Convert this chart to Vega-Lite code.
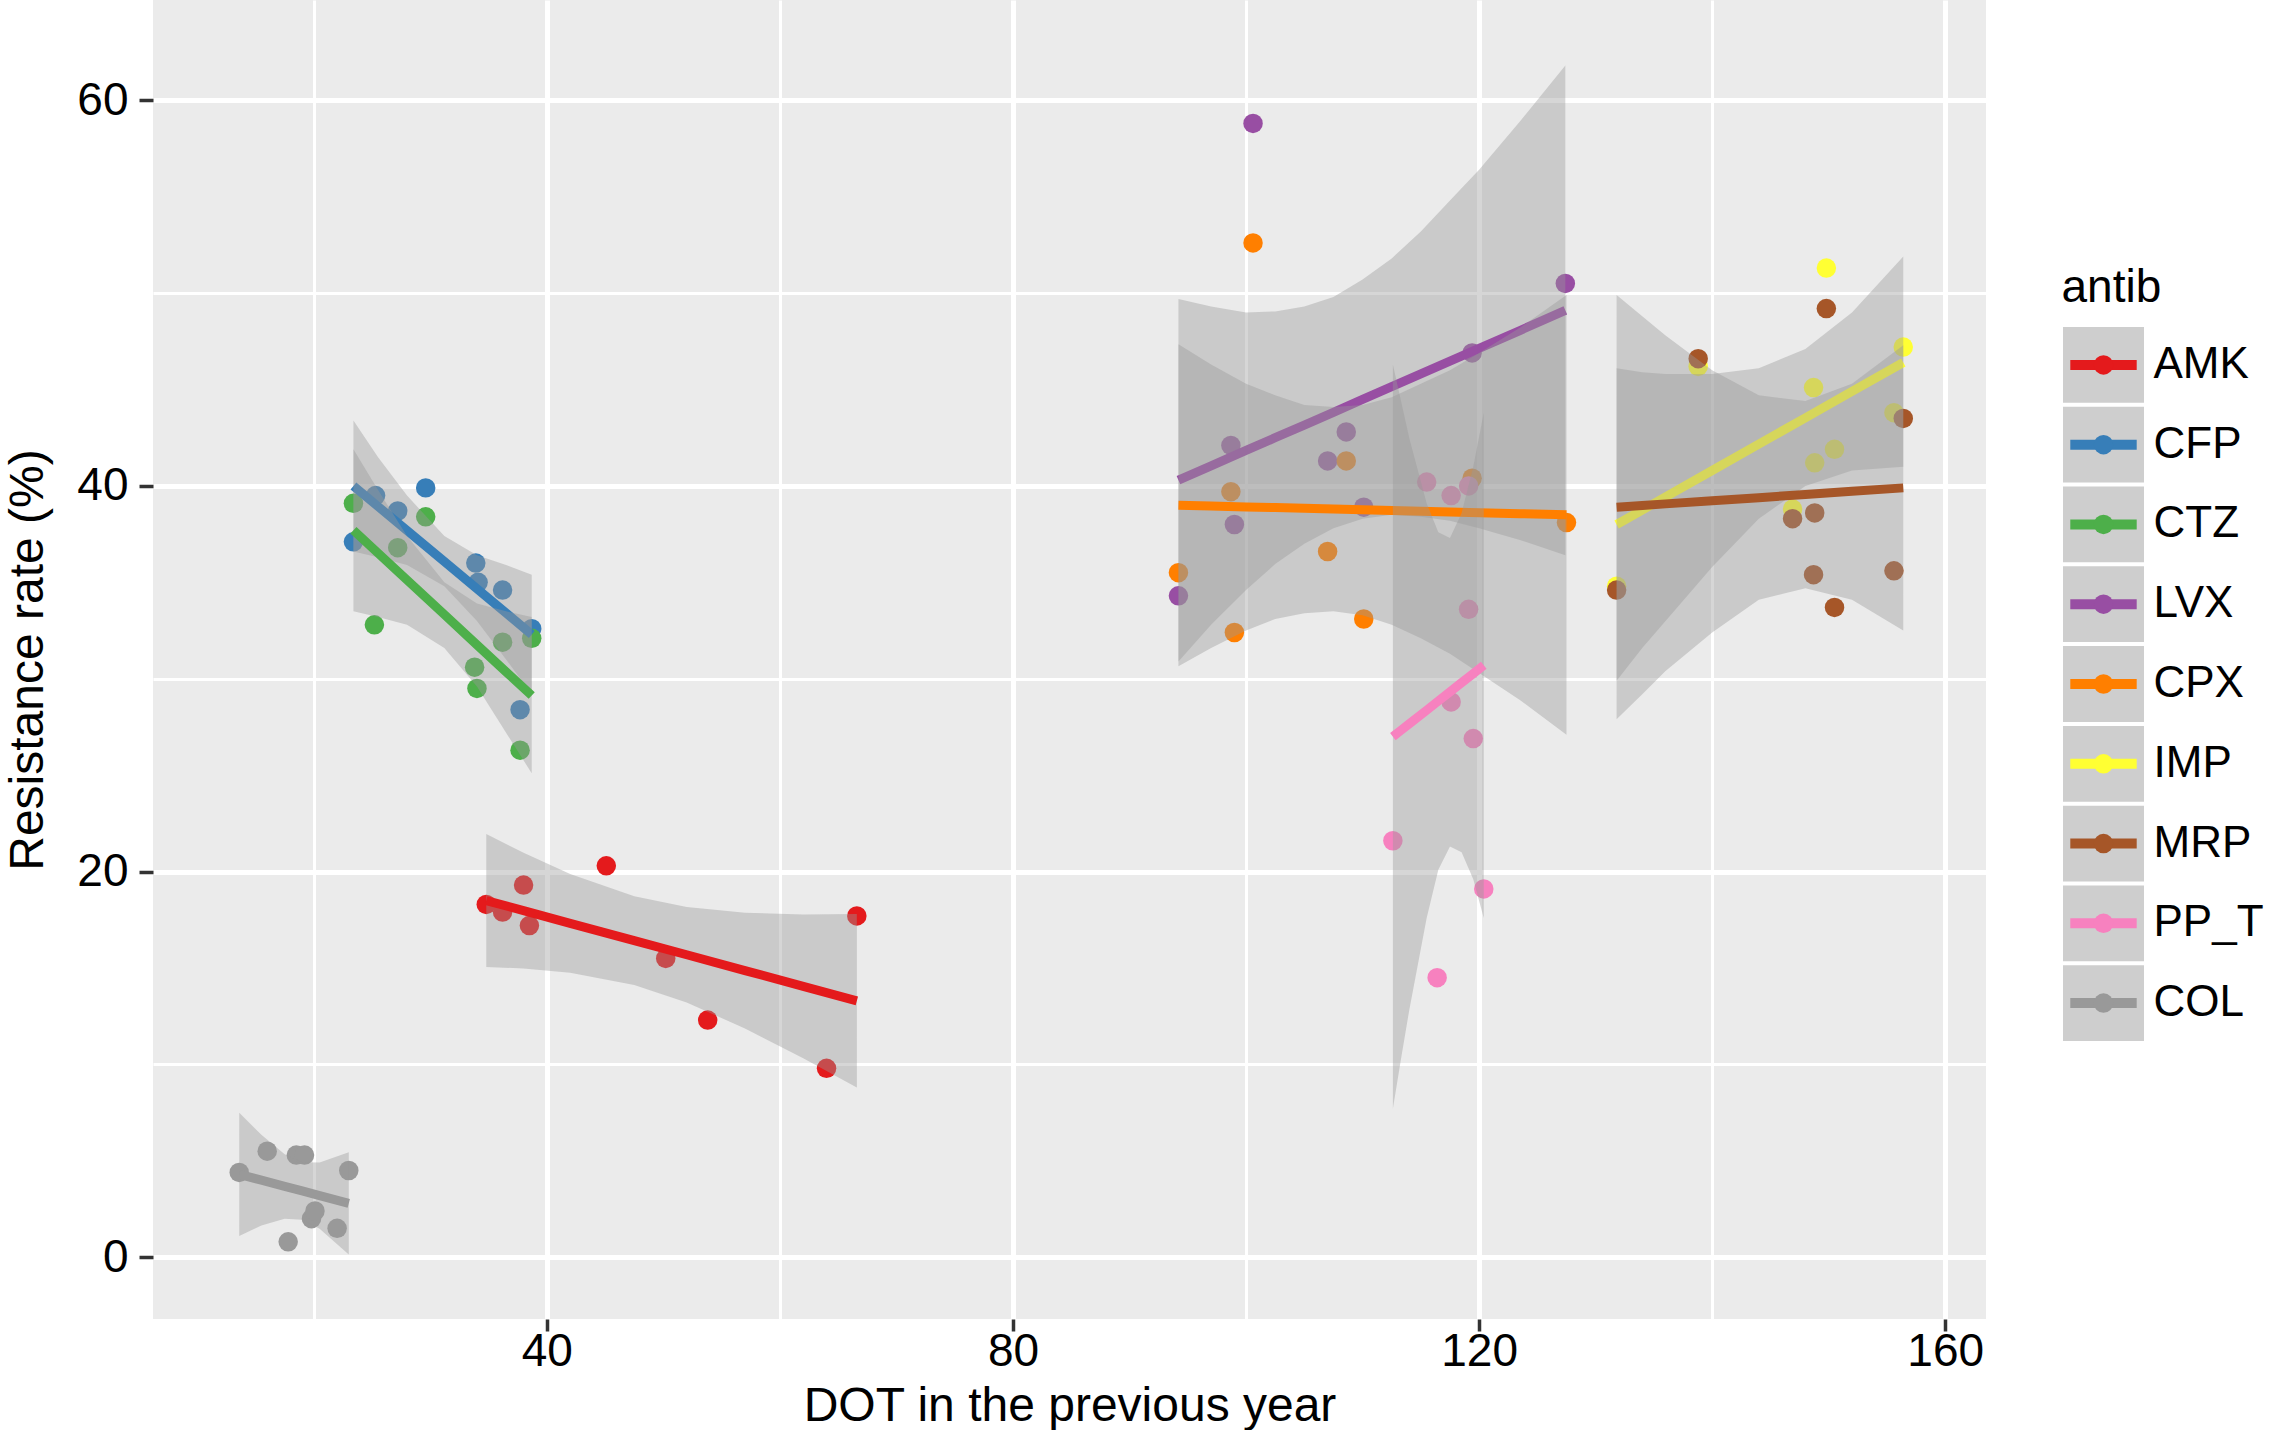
{
  "$schema": "https://vega.github.io/schema/vega-lite/v6.json",
  "padding": {"left": 4, "top": 0, "right": 0, "bottom": 0},
  "background": "white",
  "spacing": 75,
  "config": {
    "font": "Liberation Sans",
    "axis": {"titleFontWeight": "normal", "titleColor": "black", "labelColor": "black"},
    "axisX": {
      "domain": false, "grid": true, "gridColor": "white", "tickSize": 12, "tickWidth": 3.5,
      "tickColor": "#333333", "labelFontSize": 46, "labelBaseline": "alphabetic", "labelPadding": 34,
      "labelFlush": false, "labelOverlap": false, "titleFontSize": 48, "titlePadding": 8
    },
    "axisY": {
      "domain": false, "grid": true, "gridColor": "white", "tickSize": 14, "tickWidth": 3.5,
      "tickColor": "#333333", "labelFontSize": 46, "labelPadding": 11, "labelFlush": false,
      "labelOverlap": false, "titleFontSize": 48, "titlePadding": 24
    }
  },
  "datasets": {
    "pts": [
      {"antib": "AMK", "dot": 34.8, "res": 18.3}, {"antib": "AMK", "dot": 36.2, "res": 17.9},
      {"antib": "AMK", "dot": 38.0, "res": 19.3}, {"antib": "AMK", "dot": 38.5, "res": 17.2},
      {"antib": "AMK", "dot": 45.1, "res": 20.3}, {"antib": "AMK", "dot": 50.2, "res": 15.5},
      {"antib": "AMK", "dot": 53.8, "res": 12.3}, {"antib": "AMK", "dot": 64.0, "res": 9.8},
      {"antib": "AMK", "dot": 66.6, "res": 17.7},
      {"antib": "CFP", "dot": 29.6, "res": 39.9}, {"antib": "CFP", "dot": 23.4, "res": 37.1},
      {"antib": "CFP", "dot": 25.3, "res": 39.5}, {"antib": "CFP", "dot": 27.2, "res": 38.7},
      {"antib": "CFP", "dot": 33.9, "res": 36.0}, {"antib": "CFP", "dot": 34.1, "res": 35.0},
      {"antib": "CFP", "dot": 36.2, "res": 34.6}, {"antib": "CFP", "dot": 38.7, "res": 32.6},
      {"antib": "CFP", "dot": 37.7, "res": 28.4},
      {"antib": "CTZ", "dot": 23.4, "res": 39.1}, {"antib": "CTZ", "dot": 29.6, "res": 38.4},
      {"antib": "CTZ", "dot": 27.2, "res": 36.8}, {"antib": "CTZ", "dot": 25.2, "res": 32.8},
      {"antib": "CTZ", "dot": 36.2, "res": 31.9}, {"antib": "CTZ", "dot": 38.7, "res": 32.1},
      {"antib": "CTZ", "dot": 33.8, "res": 30.6}, {"antib": "CTZ", "dot": 34.0, "res": 29.5},
      {"antib": "CTZ", "dot": 37.7, "res": 26.3},
      {"antib": "LVX", "dot": 100.6, "res": 58.8}, {"antib": "LVX", "dot": 127.4, "res": 50.5},
      {"antib": "LVX", "dot": 119.4, "res": 46.9}, {"antib": "LVX", "dot": 98.7, "res": 42.1},
      {"antib": "LVX", "dot": 108.6, "res": 42.8}, {"antib": "LVX", "dot": 107.0, "res": 41.3},
      {"antib": "LVX", "dot": 110.1, "res": 38.9}, {"antib": "LVX", "dot": 99.0, "res": 38.0},
      {"antib": "LVX", "dot": 94.2, "res": 34.3},
      {"antib": "CPX", "dot": 100.6, "res": 52.6}, {"antib": "CPX", "dot": 98.7, "res": 39.7},
      {"antib": "CPX", "dot": 108.6, "res": 41.3}, {"antib": "CPX", "dot": 107.0, "res": 36.6},
      {"antib": "CPX", "dot": 110.1, "res": 33.1}, {"antib": "CPX", "dot": 99.0, "res": 32.4},
      {"antib": "CPX", "dot": 94.2, "res": 35.5}, {"antib": "CPX", "dot": 127.5, "res": 38.1},
      {"antib": "CPX", "dot": 119.4, "res": 40.4},
      {"antib": "IMP", "dot": 149.8, "res": 51.3}, {"antib": "IMP", "dot": 156.4, "res": 47.2},
      {"antib": "IMP", "dot": 148.7, "res": 45.1}, {"antib": "IMP", "dot": 155.6, "res": 43.8},
      {"antib": "IMP", "dot": 150.5, "res": 41.9}, {"antib": "IMP", "dot": 148.8, "res": 41.2},
      {"antib": "IMP", "dot": 146.9, "res": 38.8}, {"antib": "IMP", "dot": 138.8, "res": 46.2},
      {"antib": "IMP", "dot": 131.8, "res": 34.8},
      {"antib": "MRP", "dot": 149.8, "res": 49.2}, {"antib": "MRP", "dot": 138.8, "res": 46.6},
      {"antib": "MRP", "dot": 156.4, "res": 43.5}, {"antib": "MRP", "dot": 146.9, "res": 38.3},
      {"antib": "MRP", "dot": 148.8, "res": 38.6}, {"antib": "MRP", "dot": 148.7, "res": 35.4},
      {"antib": "MRP", "dot": 155.6, "res": 35.6}, {"antib": "MRP", "dot": 150.5, "res": 33.7},
      {"antib": "MRP", "dot": 131.8, "res": 34.6},
      {"antib": "PP_T", "dot": 115.5, "res": 40.2}, {"antib": "PP_T", "dot": 117.6, "res": 39.5},
      {"antib": "PP_T", "dot": 119.1, "res": 40.0}, {"antib": "PP_T", "dot": 119.1, "res": 33.6},
      {"antib": "PP_T", "dot": 117.6, "res": 28.8}, {"antib": "PP_T", "dot": 119.5, "res": 26.9},
      {"antib": "PP_T", "dot": 112.6, "res": 21.6}, {"antib": "PP_T", "dot": 120.4, "res": 19.1},
      {"antib": "PP_T", "dot": 116.4, "res": 14.5},
      {"antib": "COL", "dot": 13.6, "res": 4.4}, {"antib": "COL", "dot": 16.0, "res": 5.5},
      {"antib": "COL", "dot": 18.5, "res": 5.3}, {"antib": "COL", "dot": 19.2, "res": 5.3},
      {"antib": "COL", "dot": 23.0, "res": 4.5}, {"antib": "COL", "dot": 19.8, "res": 2.0},
      {"antib": "COL", "dot": 20.1, "res": 2.4}, {"antib": "COL", "dot": 22.0, "res": 1.5},
      {"antib": "COL", "dot": 17.8, "res": 0.8}
    ],
    "sm": [
      {"antib": "AMK", "dot": 34.8, "fit": 18.5, "lo": 15.05, "hi": 21.95},
      {"antib": "AMK", "dot": 38.0, "fit": 17.98, "lo": 14.98, "hi": 20.98},
      {"antib": "AMK", "dot": 42.0, "fit": 17.32, "lo": 14.76, "hi": 19.88},
      {"antib": "AMK", "dot": 47.5, "fit": 16.42, "lo": 14.12, "hi": 18.72},
      {"antib": "AMK", "dot": 52.0, "fit": 15.69, "lo": 13.21, "hi": 18.17},
      {"antib": "AMK", "dot": 57.0, "fit": 14.87, "lo": 11.87, "hi": 17.87},
      {"antib": "AMK", "dot": 62.0, "fit": 14.05, "lo": 10.32, "hi": 17.78},
      {"antib": "AMK", "dot": 66.6, "fit": 13.3, "lo": 8.8, "hi": 17.8},
      {"antib": "CFP", "dot": 23.4, "fit": 40.0, "lo": 36.6, "hi": 43.4},
      {"antib": "CFP", "dot": 25.5, "fit": 38.94, "lo": 36.3, "hi": 41.5},
      {"antib": "CFP", "dot": 28.0, "fit": 37.69, "lo": 35.9, "hi": 39.5},
      {"antib": "CFP", "dot": 31.2, "fit": 36.08, "lo": 34.8, "hi": 37.4},
      {"antib": "CFP", "dot": 34.0, "fit": 34.67, "lo": 33.0, "hi": 36.4},
      {"antib": "CFP", "dot": 36.5, "fit": 33.41, "lo": 31.0, "hi": 35.9},
      {"antib": "CFP", "dot": 38.7, "fit": 32.3, "lo": 29.2, "hi": 35.4},
      {"antib": "CTZ", "dot": 23.4, "fit": 37.7, "lo": 33.5, "hi": 41.9},
      {"antib": "CTZ", "dot": 25.5, "fit": 36.52, "lo": 33.2, "hi": 39.8},
      {"antib": "CTZ", "dot": 28.0, "fit": 35.12, "lo": 32.8, "hi": 37.4},
      {"antib": "CTZ", "dot": 31.2, "fit": 33.33, "lo": 31.6, "hi": 35.0},
      {"antib": "CTZ", "dot": 34.0, "fit": 31.76, "lo": 29.6, "hi": 33.9},
      {"antib": "CTZ", "dot": 36.5, "fit": 30.36, "lo": 27.2, "hi": 33.5},
      {"antib": "CTZ", "dot": 38.7, "fit": 29.13, "lo": 25.1, "hi": 33.2},
      {"antib": "LVX", "dot": 94.2, "fit": 40.3, "lo": 30.9, "hi": 49.7},
      {"antib": "LVX", "dot": 97.0, "fit": 41.04, "lo": 32.8, "hi": 49.3},
      {"antib": "LVX", "dot": 100.0, "fit": 41.84, "lo": 34.6, "hi": 49.0},
      {"antib": "LVX", "dot": 102.5, "fit": 42.5, "lo": 35.95, "hi": 49.05},
      {"antib": "LVX", "dot": 105.0, "fit": 43.16, "lo": 37.0, "hi": 49.3},
      {"antib": "LVX", "dot": 107.5, "fit": 43.82, "lo": 37.8, "hi": 49.8},
      {"antib": "LVX", "dot": 110.0, "fit": 44.49, "lo": 38.3, "hi": 50.7},
      {"antib": "LVX", "dot": 112.5, "fit": 45.15, "lo": 38.5, "hi": 51.8},
      {"antib": "LVX", "dot": 115.0, "fit": 45.81, "lo": 38.4, "hi": 53.2},
      {"antib": "LVX", "dot": 117.5, "fit": 46.47, "lo": 38.2, "hi": 54.8},
      {"antib": "LVX", "dot": 120.0, "fit": 47.14, "lo": 37.8, "hi": 56.4},
      {"antib": "LVX", "dot": 123.5, "fit": 48.06, "lo": 37.2, "hi": 58.9},
      {"antib": "LVX", "dot": 127.4, "fit": 49.1, "lo": 36.4, "hi": 61.8},
      {"antib": "CPX", "dot": 94.2, "fit": 39.0, "lo": 30.65, "hi": 47.35},
      {"antib": "CPX", "dot": 97.0, "fit": 38.96, "lo": 31.6, "hi": 46.3},
      {"antib": "CPX", "dot": 100.0, "fit": 38.91, "lo": 32.5, "hi": 45.3},
      {"antib": "CPX", "dot": 102.5, "fit": 38.88, "lo": 33.1, "hi": 44.7},
      {"antib": "CPX", "dot": 105.0, "fit": 38.84, "lo": 33.4, "hi": 44.2},
      {"antib": "CPX", "dot": 107.5, "fit": 38.8, "lo": 33.5, "hi": 44.1},
      {"antib": "CPX", "dot": 110.0, "fit": 38.76, "lo": 33.3, "hi": 44.2},
      {"antib": "CPX", "dot": 112.5, "fit": 38.73, "lo": 32.8, "hi": 44.6},
      {"antib": "CPX", "dot": 115.0, "fit": 38.69, "lo": 32.1, "hi": 45.3},
      {"antib": "CPX", "dot": 117.5, "fit": 38.65, "lo": 31.3, "hi": 46.0},
      {"antib": "CPX", "dot": 120.0, "fit": 38.61, "lo": 30.3, "hi": 46.9},
      {"antib": "CPX", "dot": 123.5, "fit": 38.56, "lo": 28.9, "hi": 48.2},
      {"antib": "CPX", "dot": 127.5, "fit": 38.5, "lo": 27.1, "hi": 49.9},
      {"antib": "IMP", "dot": 131.8, "fit": 38.0, "lo": 29.9, "hi": 46.1},
      {"antib": "IMP", "dot": 134.0, "fit": 38.75, "lo": 31.6, "hi": 45.9},
      {"antib": "IMP", "dot": 136.0, "fit": 39.43, "lo": 33.0, "hi": 45.8},
      {"antib": "IMP", "dot": 140.0, "fit": 40.8, "lo": 35.8, "hi": 45.8},
      {"antib": "IMP", "dot": 144.0, "fit": 42.17, "lo": 38.3, "hi": 46.1},
      {"antib": "IMP", "dot": 148.0, "fit": 43.53, "lo": 40.0, "hi": 47.1},
      {"antib": "IMP", "dot": 152.0, "fit": 44.9, "lo": 40.8, "hi": 49.0},
      {"antib": "IMP", "dot": 156.4, "fit": 46.4, "lo": 41.0, "hi": 51.9},
      {"antib": "MRP", "dot": 131.8, "fit": 38.9, "lo": 27.9, "hi": 49.9},
      {"antib": "MRP", "dot": 134.0, "fit": 38.99, "lo": 29.2, "hi": 48.8},
      {"antib": "MRP", "dot": 136.0, "fit": 39.07, "lo": 30.4, "hi": 47.8},
      {"antib": "MRP", "dot": 140.0, "fit": 39.23, "lo": 32.4, "hi": 46.0},
      {"antib": "MRP", "dot": 144.0, "fit": 39.39, "lo": 34.1, "hi": 44.7},
      {"antib": "MRP", "dot": 148.0, "fit": 39.56, "lo": 34.7, "hi": 44.4},
      {"antib": "MRP", "dot": 152.0, "fit": 39.72, "lo": 34.1, "hi": 45.3},
      {"antib": "MRP", "dot": 156.4, "fit": 39.9, "lo": 32.5, "hi": 47.3},
      {"antib": "PP_T", "dot": 112.6, "fit": 27.0, "lo": 7.7, "hi": 46.3},
      {"antib": "PP_T", "dot": 113.3, "fit": 27.33, "lo": 10.3, "hi": 44.4},
      {"antib": "PP_T", "dot": 114.0, "fit": 27.66, "lo": 12.8, "hi": 42.5},
      {"antib": "PP_T", "dot": 115.5, "fit": 28.37, "lo": 17.6, "hi": 39.1},
      {"antib": "PP_T", "dot": 116.5, "fit": 28.85, "lo": 20.1, "hi": 37.6},
      {"antib": "PP_T", "dot": 117.5, "fit": 29.32, "lo": 21.3, "hi": 37.3},
      {"antib": "PP_T", "dot": 118.5, "fit": 29.8, "lo": 21.0, "hi": 38.6},
      {"antib": "PP_T", "dot": 119.5, "fit": 30.27, "lo": 19.6, "hi": 41.0},
      {"antib": "PP_T", "dot": 120.4, "fit": 30.7, "lo": 17.6, "hi": 43.8},
      {"antib": "COL", "dot": 13.6, "fit": 4.3, "lo": 1.1, "hi": 7.5},
      {"antib": "COL", "dot": 15.5, "fit": 4.0, "lo": 1.65, "hi": 6.35},
      {"antib": "COL", "dot": 17.5, "fit": 3.68, "lo": 2.0, "hi": 5.35},
      {"antib": "COL", "dot": 19.0, "fit": 3.44, "lo": 1.95, "hi": 4.93},
      {"antib": "COL", "dot": 20.5, "fit": 3.2, "lo": 1.48, "hi": 4.92},
      {"antib": "COL", "dot": 23.0, "fit": 2.8, "lo": 0.15, "hi": 5.45}
    ],
    "keys": [
      {"antib": "AMK"}, {"antib": "CFP"}, {"antib": "CTZ"}, {"antib": "LVX"}, {"antib": "CPX"},
      {"antib": "IMP"}, {"antib": "MRP"}, {"antib": "PP_T"}, {"antib": "COL"}
    ]
  },
  "hconcat": [
    {
      "width": 1833,
      "height": 1319,
      "view": {"fill": "#EBEBEB", "stroke": null},
      "encoding": {
        "x": {
          "field": "dot", "type": "quantitative", "title": "DOT in the previous year",
          "scale": {"domain": [6.2, 163.5], "nice": false, "zero": false},
          "axis": {
            "values": [20, 40, 60, 80, 100, 120, 140, 160],
            "labelExpr": "datum.value % 40 === 0 ? datum.label : ''",
            "gridWidth": {"condition": {"test": "datum.value % 40 === 0", "value": 5}, "value": 3},
            "tickOpacity": {"condition": {"test": "datum.value % 40 === 0", "value": 1}, "value": 0}
          }
        }
      },
      "layer": [
        {
          "data": {"name": "pts"},
          "mark": {"type": "circle", "size": 380, "opacity": 1, "clip": true},
          "encoding": {
            "y": {
              "field": "res", "type": "quantitative", "title": "Resistance rate (%)",
              "scale": {"domain": [-3.2, 65.2], "nice": false, "zero": false},
              "axis": {
                "values": [0, 10, 20, 30, 40, 50, 60],
                "labelExpr": "datum.value % 20 === 0 ? datum.label : ''",
                "gridWidth": {"condition": {"test": "datum.value % 20 === 0", "value": 5}, "value": 3},
                "tickOpacity": {"condition": {"test": "datum.value % 20 === 0", "value": 1}, "value": 0}
              }
            },
            "color": {
              "field": "antib", "type": "nominal", "legend": null,
              "scale": {
                "domain": ["AMK", "CFP", "CTZ", "LVX", "CPX", "IMP", "MRP", "PP_T", "COL"],
                "range": ["#E41A1C", "#377EB8", "#4DAF4A", "#984EA3", "#FF7F00", "#FFFF33", "#A65628", "#F781BF", "#999999"]
              }
            }
          }
        },
        {
          "data": {"name": "sm"},
          "transform": [{"filter": {"field": "antib", "oneOf": ["AMK", "CFP", "LVX", "IMP", "COL"]}}],
          "mark": {"type": "area", "color": "#999999", "opacity": 0.4, "clip": true},
          "encoding": {
            "y": {"field": "hi", "type": "quantitative", "title": "Resistance rate (%)"},
            "y2": {"field": "lo"},
            "detail": {"field": "antib", "type": "nominal"}
          }
        },
        {
          "data": {"name": "sm"},
          "transform": [{"filter": {"field": "antib", "oneOf": ["AMK", "CFP", "LVX", "IMP", "COL"]}}],
          "mark": {"type": "line", "strokeWidth": 9, "strokeCap": "butt", "clip": true},
          "encoding": {
            "y": {"field": "fit", "type": "quantitative", "title": "Resistance rate (%)"},
            "color": {"field": "antib", "type": "nominal", "legend": null}
          }
        },
        {
          "data": {"name": "sm"},
          "transform": [{"filter": {"field": "antib", "oneOf": ["CTZ", "CPX", "MRP"]}}],
          "mark": {"type": "area", "color": "#999999", "opacity": 0.4, "clip": true},
          "encoding": {
            "y": {"field": "hi", "type": "quantitative", "title": "Resistance rate (%)"},
            "y2": {"field": "lo"},
            "detail": {"field": "antib", "type": "nominal"}
          }
        },
        {
          "data": {"name": "sm"},
          "transform": [{"filter": {"field": "antib", "oneOf": ["CTZ", "CPX", "MRP"]}}],
          "mark": {"type": "line", "strokeWidth": 9, "strokeCap": "butt", "clip": true},
          "encoding": {
            "y": {"field": "fit", "type": "quantitative", "title": "Resistance rate (%)"},
            "color": {"field": "antib", "type": "nominal", "legend": null}
          }
        },
        {
          "data": {"name": "sm"},
          "transform": [{"filter": {"field": "antib", "equal": "PP_T"}}],
          "mark": {"type": "area", "color": "#999999", "opacity": 0.4, "clip": true},
          "encoding": {
            "y": {"field": "hi", "type": "quantitative", "title": "Resistance rate (%)"},
            "y2": {"field": "lo"}
          }
        },
        {
          "data": {"name": "sm"},
          "transform": [{"filter": {"field": "antib", "equal": "PP_T"}}],
          "mark": {"type": "line", "strokeWidth": 9, "strokeCap": "butt", "clip": true},
          "encoding": {
            "y": {"field": "fit", "type": "quantitative", "title": "Resistance rate (%)"},
            "color": {"field": "antib", "type": "nominal", "legend": null}
          }
        }
      ]
    },
    {
      "width": 81,
      "height": 1319,
      "view": {"stroke": null, "fill": null},
      "data": {"name": "keys"},
      "encoding": {
        "y": {
          "field": "antib", "type": "nominal",
          "sort": ["AMK", "CFP", "CTZ", "LVX", "CPX", "IMP", "MRP", "PP_T", "COL"],
          "scale": {"type": "band", "paddingInner": 0.05, "paddingOuter": 0, "range": [327, 1041]},
          "axis": {
            "orient": "right", "domain": false, "ticks": false, "grid": false,
            "labelPadding": 9, "labelFontSize": 44,
            "title": "antib", "titleAngle": 0, "titleAlign": "left", "titleBaseline": "middle",
            "titleX": -83, "titleY": 287, "titleFontSize": 46
          }
        }
      },
      "layer": [
        {
          "mark": {"type": "rect", "color": "#CECECE"},
          "encoding": {
            "x": {"datum": 0, "type": "quantitative", "scale": {"domain": [0, 1], "nice": false}, "axis": null},
            "x2": {"datum": 1}
          }
        },
        {
          "mark": {"type": "rule", "strokeWidth": 10, "strokeCap": "butt"},
          "encoding": {
            "x": {"datum": 0.09, "type": "quantitative"},
            "x2": {"datum": 0.91},
            "color": {
              "field": "antib", "type": "nominal", "legend": null,
              "scale": {
                "domain": ["AMK", "CFP", "CTZ", "LVX", "CPX", "IMP", "MRP", "PP_T", "COL"],
                "range": ["#E41A1C", "#377EB8", "#4DAF4A", "#984EA3", "#FF7F00", "#FFFF33", "#A65628", "#F781BF", "#999999"]
              }
            }
          }
        },
        {
          "mark": {"type": "circle", "size": 380, "opacity": 1},
          "encoding": {
            "x": {"datum": 0.5, "type": "quantitative"},
            "color": {"field": "antib", "type": "nominal", "legend": null}
          }
        }
      ]
    }
  ]
}
